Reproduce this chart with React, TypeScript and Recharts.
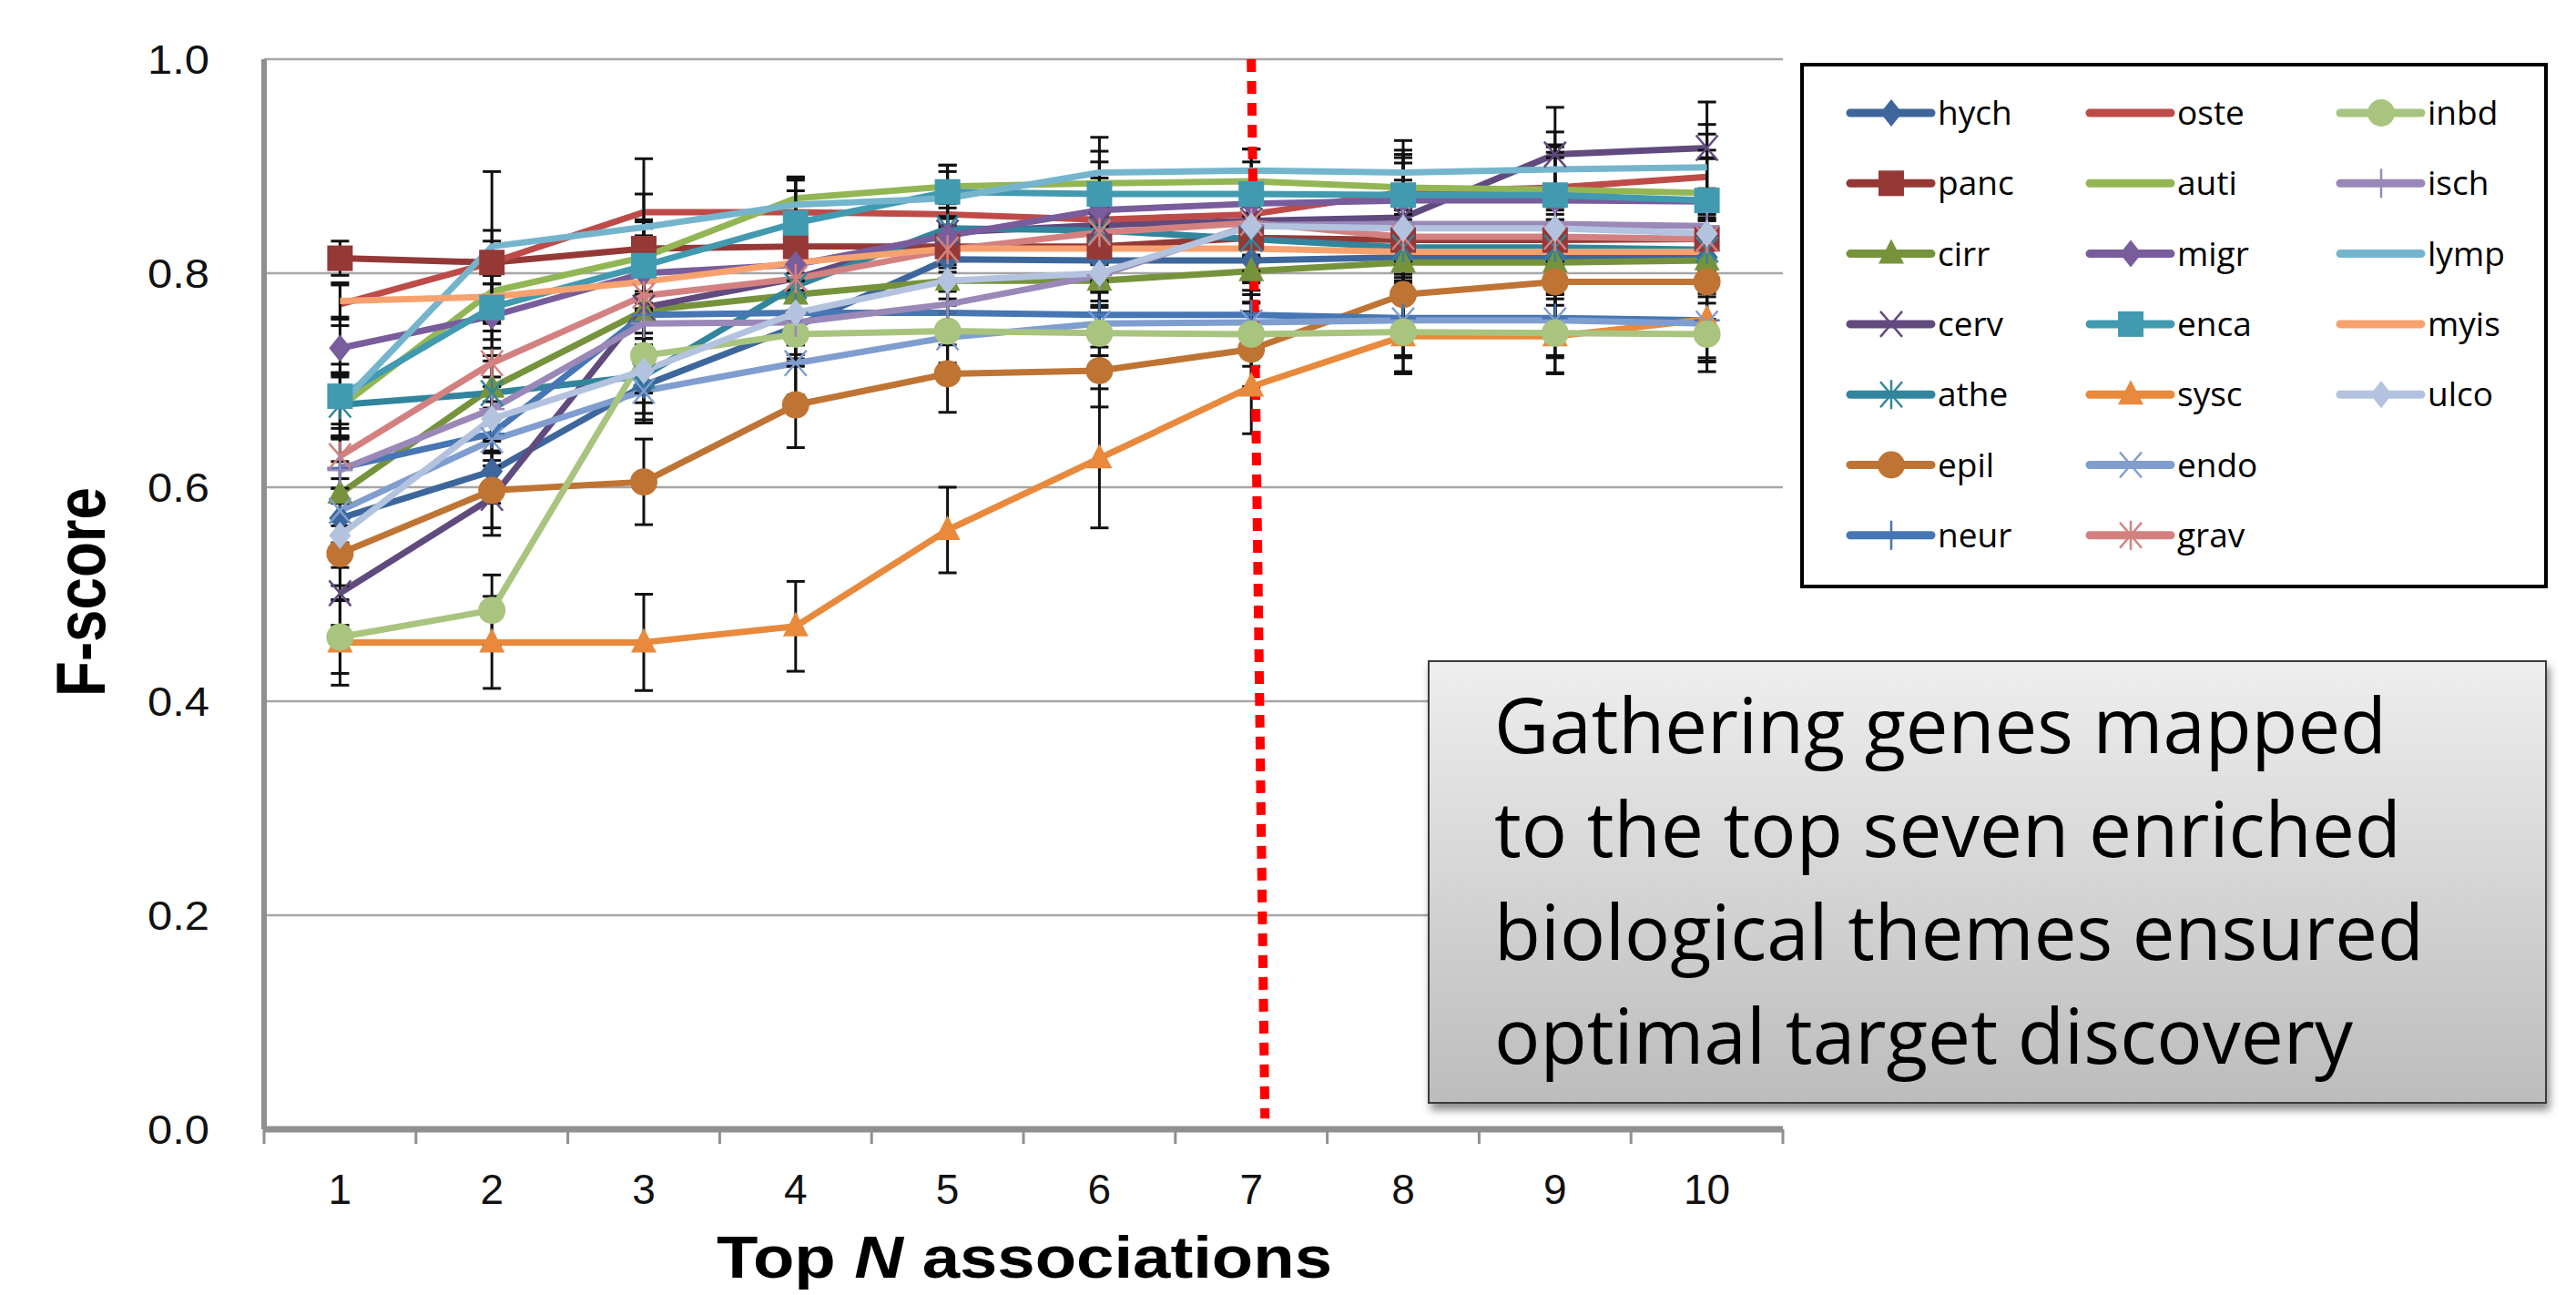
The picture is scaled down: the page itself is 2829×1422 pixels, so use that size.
import React from 'react';
import { LineChart, Line, XAxis, YAxis, CartesianGrid, ErrorBar, ReferenceLine } from 'recharts';

// ---------- data ----------
const topN = [1, 2, 3, 4, 5, 6, 7, 8, 9, 10];
const xTicks = [0.5, 1, 1.5, 2, 2.5, 3, 3.5, 4, 4.5, 5, 5.5, 6, 6.5, 7, 7.5, 8, 8.5, 9, 9.5, 10, 10.5];
const yTicks = [0, 0.2, 0.4, 0.6, 0.8, 1.0];

const hych = [0.571, 0.615, 0.695, 0.75, 0.813, 0.812, 0.812, 0.815, 0.815, 0.815];
const panc = [0.814, 0.81, 0.823, 0.825, 0.825, 0.825, 0.833, 0.831, 0.831, 0.832];
const cirr = [0.594, 0.693, 0.765, 0.78, 0.793, 0.793, 0.802, 0.81, 0.81, 0.812];
const cerv = [0.501, 0.59, 0.768, 0.795, 0.838, 0.845, 0.849, 0.852, 0.911, 0.917];
const athe = [0.677, 0.688, 0.704, 0.788, 0.842, 0.84, 0.832, 0.824, 0.824, 0.822];
const epil = [0.538, 0.597, 0.605, 0.677, 0.706, 0.709, 0.729, 0.78, 0.792, 0.792];
const neur = [0.618, 0.65, 0.761, 0.763, 0.763, 0.761, 0.761, 0.758, 0.758, 0.756];
const oste = [0.771, 0.81, 0.857, 0.857, 0.855, 0.85, 0.855, 0.876, 0.88, 0.89];
const auti = [0.675, 0.783, 0.815, 0.87, 0.881, 0.884, 0.886, 0.88, 0.878, 0.875];
const migr = [0.73, 0.76, 0.8, 0.808, 0.835, 0.859, 0.865, 0.868, 0.868, 0.867];
const enca = [0.685, 0.768, 0.807, 0.847, 0.876, 0.874, 0.874, 0.873, 0.873, 0.868];
const sysc = [0.455, 0.455, 0.455, 0.47, 0.56, 0.627, 0.694, 0.741, 0.741, 0.757];
const endo = [0.578, 0.644, 0.69, 0.716, 0.74, 0.753, 0.754, 0.756, 0.756, 0.753];
const grav = [0.629, 0.716, 0.779, 0.795, 0.822, 0.838, 0.847, 0.834, 0.834, 0.832];
const inbd = [0.46, 0.485, 0.723, 0.743, 0.746, 0.744, 0.743, 0.745, 0.744, 0.743];
const isch = [0.616, 0.673, 0.753, 0.754, 0.771, 0.798, 0.845, 0.846, 0.846, 0.844];
const lymp = [0.677, 0.825, 0.843, 0.864, 0.87, 0.894, 0.896, 0.894, 0.897, 0.899];
const myis = [0.774, 0.778, 0.792, 0.81, 0.823, 0.823, 0.823, 0.82, 0.82, 0.82];
const ulco = [0.555, 0.664, 0.709, 0.763, 0.793, 0.8, 0.844, 0.842, 0.842, 0.837];

const hychErr = [0.028, 0.03, 0.032, 0.03, 0.03, 0.03, 0.032, 0.035, 0.035, 0.034];
const pancErr = [0.016, 0.02, 0.025, 0.025, 0.03, 0.03, 0.03, 0.035, 0.035, 0.035];
const cirrErr = [0.03, 0.03, 0.035, 0.03, 0.03, 0.03, 0.03, 0.035, 0.04, 0.04];
const cervErr = [0.03, 0.035, 0.035, 0.03, 0.03, 0.03, 0.035, 0.035, 0.044, 0.043];
const atheErr = [0.03, 0.03, 0.035, 0.035, 0.03, 0.03, 0.03, 0.035, 0.035, 0.035];
const epilErr = [0.03, 0.035, 0.04, 0.04, 0.036, 0.034, 0.035, 0.035, 0.035, 0.035];
const neurErr = [0.03, 0.03, 0.03, 0.03, 0.03, 0.03, 0.03, 0.035, 0.035, 0.035];
const osteErr = [0.02, 0.03, 0.05, 0.03, 0.03, 0.03, 0.03, 0.035, 0.04, 0.04];
const autiErr = [0.03, 0.03, 0.035, 0.02, 0.02, 0.03, 0.03, 0.035, 0.04, 0.04];
const migrErr = [0.027, 0.03, 0.035, 0.03, 0.03, 0.03, 0.03, 0.035, 0.04, 0.04];
const encaErr = [0.03, 0.03, 0.035, 0.03, 0.025, 0.03, 0.03, 0.035, 0.04, 0.04];
const syscErr = [0.04, 0.043, 0.045, 0.042, 0.04, 0.065, 0.044, 0.035, 0.035, 0.04];
const endoErr = [0.03, 0.03, 0.03, 0.03, 0.03, 0.03, 0.03, 0.035, 0.035, 0.035];
const gravErr = [0.03, 0.03, 0.035, 0.03, 0.03, 0.03, 0.03, 0.035, 0.035, 0.035];
const inbdErr = [0.034, 0.033, 0.035, 0.03, 0.03, 0.03, 0.03, 0.037, 0.037, 0.035];
const ischErr = [0.03, 0.03, 0.03, 0.03, 0.03, 0.03, 0.03, 0.035, 0.035, 0.035];
const lympErr = [0.03, 0.07, 0.031, 0.025, 0.025, 0.033, 0.02, 0.03, 0.035, 0.04];
const myisErr = [0.015, 0.02, 0.025, 0.03, 0.03, 0.03, 0.03, 0.035, 0.035, 0.035];
const ulcoErr = [0.03, 0.03, 0.03, 0.03, 0.03, 0.03, 0.03, 0.035, 0.035, 0.035];

const boxLines = [
  'Gathering genes mapped',
  'to the top seven enriched',
  'biological themes ensured',
  'optimal target discovery',
];

// ---------- series config (style) ----------
type Shape = 'diamond' | 'square' | 'triangle' | 'x' | 'asterisk' | 'circle' | 'plus' | 'none';
const SERIES: { key: string; values: number[]; err: number[]; color: string; shape: Shape }[] = [
  { key: 'hych', values: hych, err: hychErr, color: '#3D679C', shape: 'diamond' },
  { key: 'panc', values: panc, err: pancErr, color: '#943936', shape: 'square' },
  { key: 'cirr', values: cirr, err: cirrErr, color: '#76933C', shape: 'triangle' },
  { key: 'cerv', values: cerv, err: cervErr, color: '#604A7E', shape: 'x' },
  { key: 'athe', values: athe, err: atheErr, color: '#31859C', shape: 'asterisk' },
  { key: 'epil', values: epil, err: epilErr, color: '#BF7434', shape: 'circle' },
  { key: 'neur', values: neur, err: neurErr, color: '#4676B3', shape: 'plus' },
  { key: 'oste', values: oste, err: osteErr, color: '#BE4B48', shape: 'none' },
  { key: 'auti', values: auti, err: autiErr, color: '#93B655', shape: 'none' },
  { key: 'migr', values: migr, err: migrErr, color: '#785C9C', shape: 'diamond' },
  { key: 'enca', values: enca, err: encaErr, color: '#419AB0', shape: 'square' },
  { key: 'sysc', values: sysc, err: syscErr, color: '#E8893C', shape: 'triangle' },
  { key: 'endo', values: endo, err: endoErr, color: '#7F9ECF', shape: 'x' },
  { key: 'grav', values: grav, err: gravErr, color: '#D38180', shape: 'asterisk' },
  { key: 'inbd', values: inbd, err: inbdErr, color: '#A8C47E', shape: 'circle' },
  { key: 'isch', values: isch, err: ischErr, color: '#9A88B8', shape: 'plus' },
  { key: 'lymp', values: lymp, err: lympErr, color: '#74B5CD', shape: 'none' },
  { key: 'myis', values: myis, err: myisErr, color: '#F7A26E', shape: 'none' },
  { key: 'ulco', values: ulco, err: ulcoErr, color: '#B3C3DF', shape: 'diamond' },
];

const data = topN.map((n, i) => {
  const row: Record<string, number> = { n };
  SERIES.forEach((s) => {
    row[s.key] = s.values[i];
    row[s.key + '_err'] = s.err[i];
  });
  return row;
});

// ---------- helpers ----------
function Marker({ shape, cx, cy, color }: { shape: Shape; cx: number; cy: number; color: string }) {
  switch (shape) {
    case 'diamond':
      return <polygon points={`${cx},${cy - 15} ${cx + 12},${cy} ${cx},${cy + 15} ${cx - 12},${cy}`} fill={color} />;
    case 'square':
      return <rect x={cx - 14} y={cy - 14} width={28} height={28} fill={color} />;
    case 'triangle':
      return <polygon points={`${cx},${cy - 16} ${cx + 14},${cy + 11} ${cx - 14},${cy + 11}`} fill={color} />;
    case 'circle':
      return <circle cx={cx} cy={cy} r={15} fill={color} />;
    case 'x':
      return (
        <g stroke={color} strokeWidth={2.5}>
          <line x1={cx - 12} y1={cy - 14} x2={cx + 12} y2={cy + 14} />
          <line x1={cx - 12} y1={cy + 14} x2={cx + 12} y2={cy - 14} />
        </g>
      );
    case 'asterisk':
      return (
        <g stroke={color} strokeWidth={2.5}>
          <line x1={cx - 12} y1={cy - 14} x2={cx + 12} y2={cy + 14} />
          <line x1={cx - 12} y1={cy + 14} x2={cx + 12} y2={cy - 14} />
          <line x1={cx} y1={cy - 16} x2={cx} y2={cy + 16} />
        </g>
      );
    case 'plus':
      return (
        <g stroke={color} strokeWidth={2.5}>
          <line x1={cx} y1={cy - 16} x2={cx} y2={cy + 16} />
          <line x1={cx - 14} y1={cy} x2={cx + 14} y2={cy} />
        </g>
      );
    default:
      return null;
  }
}

const makeDot = (s: { key: string; color: string; shape: Shape }) => (props: any) => {
  const { cx, cy, index } = props;
  if (s.shape === 'none' || cx == null || cy == null) return <g key={`${s.key}-${index}`} />;
  return (
    <g key={`${s.key}-${index}`}>
      <Marker shape={s.shape} cx={cx} cy={cy} color={s.color} />
    </g>
  );
};

const XTick = (props: any) => {
  const { x, y, payload } = props;
  const v = payload.value;
  if (Math.abs(v - Math.round(v)) > 0.01) {
    return <line x1={x} y1={y} x2={x} y2={y + 16} stroke="#8F8F8F" strokeWidth={3} />;
  }
  return (
    <text x={x} y={y + 82} textAnchor="middle" fontSize={46} fill="#111" fontFamily="'Liberation Sans', Arial, sans-serif">
      {v}
    </text>
  );
};

const YTick = (props: any) => {
  const { x, y, payload } = props;
  return (
    <text
      x={x}
      y={y + 16}
      textAnchor="end"
      fontSize={44}
      fill="#111"
      fontFamily="'Liberation Sans', Arial, sans-serif"
      textLength={68}
      lengthAdjust="spacingAndGlyphs"
    >
      {Number(payload.value).toFixed(1)}
    </text>
  );
};

const XTitle = () => (
  <text
    x={1125}
    y={1403}
    textAnchor="middle"
    fontSize={64}
    fontWeight="bold"
    fill="#000"
    fontFamily="'Liberation Sans', Arial, sans-serif"
    textLength={676}
    lengthAdjust="spacingAndGlyphs"
  >
    Top <tspan fontStyle="italic">N</tspan> associations
  </text>
);

const YTitle = () => (
  <text
    x={115}
    y={650}
    transform="rotate(-90 115 650)"
    textAnchor="middle"
    fontSize={76}
    fontWeight="bold"
    fill="#000"
    fontFamily="'Liberation Sans', Arial, sans-serif"
    textLength={230}
    lengthAdjust="spacingAndGlyphs"
  >
    F-score
  </text>
);

const legendColX = [2032, 2295, 2570];
const boxLineWidths = [980, 996, 1021, 943];

export default function App() {
  return (
    <div style={{ position: 'absolute', left: 0, top: 0, width: 2829, height: 1422, background: '#fff', overflow: 'hidden' }}>
      <LineChart width={2829} height={1422} data={data} margin={{ top: 65, right: 871, bottom: 0, left: 0 }}>
        <CartesianGrid vertical={false} stroke="#A6A6A6" strokeWidth={2.5} />
        <XAxis
          dataKey="n"
          type="number"
          domain={[0.5, 10.5]}
          ticks={xTicks}
          interval={0}
          tickLine={false}
          tickSize={0}
          tickMargin={0}
          axisLine={{ stroke: '#8F8F8F', strokeWidth: 7 }}
          tick={<XTick />}
          height={182}
          label={XTitle}
        />
        <YAxis
          type="number"
          domain={[0, 1]}
          ticks={yTicks}
          interval={0}
          width={290}
          tickLine={false}
          tickSize={0}
          tickMargin={60}
          axisLine={{ stroke: '#8F8F8F', strokeWidth: 6 }}
          tick={<YTick />}
          label={YTitle}
        />
        {SERIES.map((s) => (
          <Line
            key={s.key}
            dataKey={s.key}
            stroke={s.color}
            strokeWidth={7}
            strokeLinejoin="round"
            dot={makeDot(s)}
            activeDot={false}
            isAnimationActive={false}
          >
            <ErrorBar dataKey={s.key + '_err'} direction="y" width={10} strokeWidth={3} stroke="#111" isAnimationActive={false} />
          </Line>
        ))}
        <ReferenceLine
          segment={[{ x: 7, y: 1 }, { x: 7.09, y: 0.01 }]}
          stroke="#FF0000"
          strokeWidth={10}
          strokeDasharray="14 10"
          ifOverflow="visible"
        />
      </LineChart>

      <svg width={2829} height={1422} style={{ position: 'absolute', left: 0, top: 0, pointerEvents: 'none' }}>
        <defs>
          <linearGradient id="boxGrad" x1="0" y1="0" x2="0" y2="1">
            <stop offset="0%" stopColor="#EEEEEE" />
            <stop offset="100%" stopColor="#BCBCBC" />
          </linearGradient>
          <filter id="shadow" x="-5%" y="-5%" width="110%" height="115%">
            <feDropShadow dx="3" dy="7" stdDeviation="5" floodColor="#000" floodOpacity="0.45" />
          </filter>
        </defs>

        {/* legend */}
        <rect x={1979} y={71} width={817} height={573} fill="#fff" stroke="#000" strokeWidth={4} />
        {SERIES.map((s, i) => {
          const col = Math.floor(i / 7);
          const row = i % 7;
          const x0 = legendColX[col];
          const y0 = 124 + row * 77.3;
          return (
            <g key={s.key}>
              <line x1={x0} y1={y0} x2={x0 + 89} y2={y0} stroke={s.color} strokeWidth={9} strokeLinecap="round" />
              <Marker shape={s.shape} cx={x0 + 45} cy={y0} color={s.color} />
              <text x={x0 + 96} y={y0 + 13} fontSize={37} fill="#000" fontFamily="'Open Sans', sans-serif">
                {s.key}
              </text>
            </g>
          );
        })}

        {/* annotation box */}
        <rect x={1569} y={726} width={1227} height={485} fill="url(#boxGrad)" stroke="#3A3A3A" strokeWidth={2} filter="url(#shadow)" />
        {boxLines.map((t, i) => (
          <text
            key={i}
            x={1641}
            y={827 + i * 113.7}
            fontSize={84}
            fill="#000"
            fontFamily="'Open Sans', sans-serif"
            textLength={boxLineWidths[i]}
            lengthAdjust="spacingAndGlyphs"
          >
            {t}
          </text>
        ))}
      </svg>
    </div>
  );
}
